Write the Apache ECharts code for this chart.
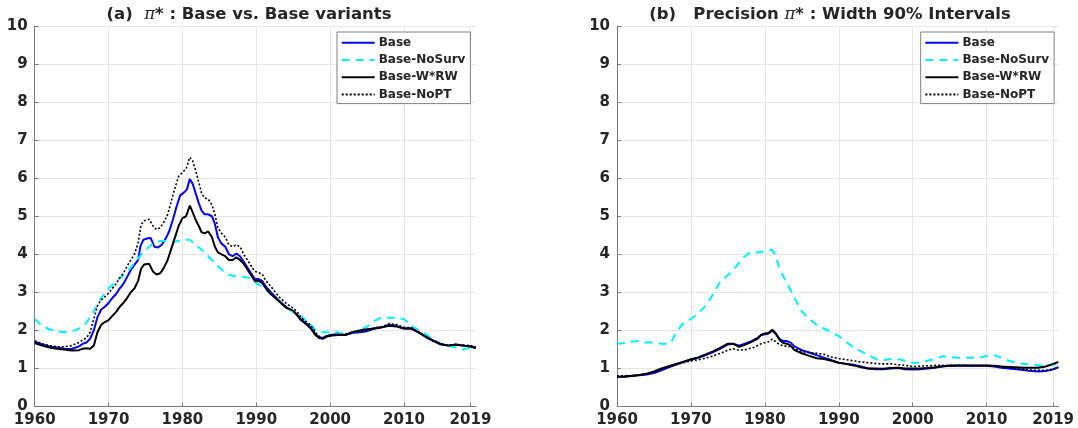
<!DOCTYPE html>
<html>
<head>
<meta charset="utf-8">
<script src="https://cdn.jsdelivr.net/npm/echarts@6/dist/echarts.min.js"></script>
<style>html,body{margin:0;padding:0;background:#fff}#c{width:1078px;height:428px}</style>
</head>
<body>
<div id="c"></div>
<script>
// ---------- data ----------
const seriesNames = ['Base', 'Base-NoSurv', 'Base-W*RW', 'Base-NoPT'];
const xTickLabels = [1960, 1970, 1980, 1990, 2000, 2010, 2019];
const yTicks = [0,1,2,3,4,5,6,7,8,9,10];

// Panel (a): pi* level
const baseA = [[1960,1.70],[1961,1.63],[1962,1.58],[1963,1.55],[1964,1.52],[1965,1.51],[1966,1.58],[1966.5,1.65],[1967,1.68],[1967.5,1.78],[1968,2.0],[1968.5,2.35],[1969,2.55],[1969.5,2.62],[1970,2.72],[1970.5,2.85],[1971,2.95],[1971.5,3.1],[1972,3.22],[1972.5,3.4],[1973,3.58],[1973.5,3.72],[1974,3.85],[1974.3,4.2],[1974.7,4.38],[1975.3,4.42],[1975.7,4.43],[1976.2,4.2],[1976.7,4.18],[1977.2,4.25],[1977.7,4.4],[1978.2,4.6],[1978.7,4.9],[1979.2,5.25],[1979.7,5.55],[1980.2,5.62],[1980.6,5.7],[1981,5.98],[1981.4,5.85],[1981.8,5.6],[1982.2,5.35],[1982.6,5.15],[1983,5.05],[1983.5,5.05],[1984,5.0],[1984.4,4.8],[1984.8,4.45],[1985.3,4.28],[1985.8,4.2],[1986.3,4.0],[1986.8,3.95],[1987.3,4.02],[1987.8,3.95],[1988.3,3.8],[1988.8,3.65],[1989.3,3.5],[1989.8,3.35],[1990.3,3.35],[1990.8,3.3],[1991.3,3.15],[1992,3.0],[1993,2.8],[1994,2.62],[1995,2.5],[1995.5,2.42],[1996,2.3],[1996.5,2.22],[1997,2.15],[1997.5,2.05],[1998,1.9],[1998.5,1.82],[1999,1.8],[1999.5,1.85],[2000,1.88],[2001,1.9],[2002,1.88],[2003,1.93],[2004,1.95],[2005,1.98],[2006,2.05],[2007,2.08],[2008,2.15],[2009,2.12],[2010,2.05],[2011,2.05],[2012,1.95],[2013,1.82],[2014,1.72],[2015,1.63],[2016,1.6],[2017,1.62],[2018,1.6],[2019,1.58],[2019.7,1.55]];
const noSurvA = [[1960,2.3],[1961,2.12],[1962,2.03],[1963,1.97],[1964,1.95],[1965,1.97],[1966,2.05],[1967,2.2],[1968,2.5],[1969,2.85],[1970,3.1],[1971,3.28],[1972,3.45],[1973,3.65],[1974,3.9],[1975,4.12],[1976,4.28],[1977,4.35],[1978,4.35],[1979,4.33],[1980,4.38],[1981,4.38],[1982,4.22],[1983,4.05],[1984,3.85],[1985,3.65],[1986,3.48],[1987,3.42],[1988,3.42],[1989,3.38],[1990,3.25],[1991,3.12],[1992,2.95],[1993,2.78],[1994,2.62],[1995,2.48],[1996,2.38],[1997,2.22],[1998,2.02],[1999,1.95],[2000,1.95],[2001,1.95],[2002,1.9],[2003,1.95],[2004,2.0],[2005,2.1],[2006,2.25],[2007,2.35],[2008,2.33],[2009,2.33],[2010,2.3],[2011,2.12],[2012,2.0],[2013,1.9],[2014,1.75],[2015,1.65],[2016,1.6],[2017,1.55],[2018,1.5],[2019,1.55],[2019.7,1.55]];
const wrwA = [[1960,1.67],[1961,1.6],[1962,1.55],[1963,1.52],[1964,1.5],[1965,1.47],[1966,1.48],[1966.5,1.52],[1967,1.53],[1967.5,1.52],[1968,1.6],[1968.5,1.95],[1969,2.15],[1969.5,2.22],[1970,2.27],[1970.5,2.38],[1971,2.48],[1971.5,2.62],[1972,2.72],[1972.5,2.85],[1973,3.0],[1973.5,3.1],[1974,3.3],[1974.4,3.62],[1974.8,3.73],[1975.5,3.75],[1976,3.55],[1976.5,3.47],[1977,3.5],[1977.5,3.65],[1978,3.85],[1978.5,4.15],[1979,4.45],[1979.5,4.75],[1980,4.95],[1980.5,5.0],[1981,5.28],[1981.4,5.1],[1981.8,4.9],[1982.2,4.75],[1982.6,4.58],[1983,4.55],[1983.5,4.6],[1984,4.45],[1984.4,4.2],[1984.8,4.05],[1985.3,4.0],[1985.8,3.95],[1986.3,3.85],[1986.8,3.85],[1987.3,3.92],[1987.8,3.85],[1988.3,3.75],[1988.8,3.6],[1989.3,3.45],[1989.8,3.3],[1990.3,3.3],[1990.8,3.25],[1991.3,3.1],[1992,2.95],[1993,2.78],[1994,2.6],[1995,2.52],[1995.5,2.4],[1996,2.28],[1996.5,2.2],[1997,2.12],[1997.5,2.02],[1998,1.88],[1998.5,1.8],[1999,1.78],[1999.5,1.83],[2000,1.86],[2001,1.88],[2002,1.88],[2003,1.95],[2004,2.0],[2005,2.03],[2006,2.05],[2007,2.08],[2008,2.12],[2009,2.1],[2010,2.05],[2011,2.05],[2012,1.95],[2013,1.83],[2014,1.73],[2015,1.64],[2016,1.6],[2017,1.63],[2018,1.6],[2019,1.58],[2019.7,1.53]];
const noPTA = [[1960,1.73],[1961,1.65],[1962,1.6],[1963,1.57],[1964,1.57],[1965,1.6],[1966,1.68],[1966.5,1.75],[1967,1.8],[1967.5,1.95],[1968,2.3],[1968.5,2.65],[1969,2.8],[1969.5,2.88],[1970,2.98],[1970.5,3.1],[1971,3.22],[1971.5,3.38],[1972,3.5],[1972.5,3.68],[1973,3.85],[1973.5,4.0],[1974,4.3],[1974.4,4.78],[1974.8,4.88],[1975.5,4.92],[1976,4.75],[1976.5,4.65],[1977,4.7],[1977.5,4.85],[1978,5.05],[1978.5,5.4],[1979,5.75],[1979.5,6.05],[1980,6.15],[1980.5,6.25],[1981,6.55],[1981.4,6.45],[1981.8,6.2],[1982.2,5.9],[1982.6,5.6],[1983,5.48],[1983.5,5.45],[1984,5.3],[1984.4,5.05],[1984.8,4.7],[1985.3,4.55],[1985.8,4.45],[1986.3,4.25],[1986.8,4.2],[1987.3,4.25],[1987.8,4.2],[1988.3,4.0],[1988.8,3.85],[1989.3,3.7],[1989.8,3.55],[1990.3,3.52],[1990.8,3.48],[1991.3,3.3],[1992,3.15],[1993,2.9],[1994,2.72],[1995,2.58],[1995.5,2.5],[1996,2.35],[1996.5,2.27],[1997,2.2],[1997.5,2.1],[1998,1.95],[1998.5,1.85],[1999,1.8],[1999.5,1.85],[2000,1.88],[2001,1.9],[2002,1.9],[2003,1.95],[2004,1.97],[2005,2.0],[2006,2.07],[2007,2.1],[2008,2.18],[2009,2.15],[2010,2.08],[2011,2.07],[2012,1.95],[2013,1.83],[2014,1.72],[2015,1.64],[2016,1.61],[2017,1.63],[2018,1.62],[2019,1.6],[2019.7,1.56]];

// Panel (b): width of 90% intervals
const baseB = [[1960,0.78],[1961,0.78],[1962,0.8],[1963,0.82],[1964,0.84],[1965,0.88],[1966,0.95],[1967,1.03],[1968,1.1],[1969,1.17],[1970,1.23],[1971,1.28],[1972,1.35],[1973,1.43],[1974,1.52],[1975,1.63],[1975.7,1.65],[1976.5,1.6],[1977,1.63],[1978,1.7],[1979,1.8],[1979.5,1.88],[1980,1.9],[1980.5,1.92],[1981,2.0],[1981.5,1.9],[1982,1.77],[1982.5,1.72],[1983,1.72],[1983.5,1.68],[1984,1.58],[1985,1.48],[1986,1.42],[1987,1.35],[1988,1.28],[1989,1.22],[1990,1.15],[1991,1.12],[1992,1.1],[1993,1.05],[1994,1.0],[1995,0.98],[1996,0.98],[1997,1.0],[1998,1.01],[1999,0.98],[2000,0.97],[2001,0.98],[2002,1.0],[2003,1.02],[2004,1.05],[2005,1.07],[2006,1.07],[2007,1.07],[2008,1.07],[2009,1.07],[2010,1.07],[2011,1.05],[2012,1.02],[2013,1.0],[2014,0.98],[2015,0.96],[2016,0.93],[2017,0.92],[2018,0.93],[2019,0.98],[2019.7,1.03]];
const noSurvB = [[1960,1.65],[1961,1.67],[1962,1.7],[1963,1.72],[1964,1.68],[1965,1.68],[1966,1.65],[1967,1.65],[1967.5,1.75],[1968,1.95],[1969,2.2],[1970,2.3],[1971,2.45],[1972,2.65],[1973,2.95],[1974,3.3],[1975,3.45],[1976,3.65],[1977,3.9],[1978,4.05],[1979,4.05],[1980,4.08],[1981,4.12],[1981.5,3.95],[1982,3.6],[1983,3.25],[1984,2.85],[1985,2.5],[1986,2.3],[1987,2.15],[1988,2.05],[1989,1.95],[1990,1.85],[1991,1.7],[1992,1.55],[1993,1.45],[1994,1.35],[1995,1.25],[1996,1.22],[1997,1.25],[1998,1.25],[1999,1.2],[2000,1.15],[2001,1.15],[2002,1.2],[2003,1.25],[2004,1.32],[2005,1.3],[2006,1.28],[2007,1.28],[2008,1.28],[2009,1.28],[2010,1.33],[2011,1.35],[2012,1.28],[2013,1.2],[2014,1.15],[2015,1.12],[2016,1.12],[2017,1.08],[2018,1.07],[2019,1.1],[2019.7,1.12]];
const wrwB = [[1960,0.78],[1961,0.79],[1962,0.81],[1963,0.83],[1964,0.86],[1965,0.92],[1966,1.0],[1967,1.06],[1968,1.12],[1969,1.18],[1970,1.24],[1971,1.29],[1972,1.37],[1973,1.45],[1974,1.55],[1975,1.65],[1975.7,1.65],[1976.5,1.57],[1977,1.6],[1978,1.68],[1979,1.78],[1979.5,1.88],[1980,1.92],[1980.5,1.93],[1981,2.02],[1981.5,1.92],[1982,1.75],[1982.5,1.67],[1983,1.65],[1983.5,1.6],[1984,1.48],[1985,1.4],[1986,1.33],[1987,1.27],[1988,1.25],[1989,1.2],[1990,1.15],[1991,1.12],[1992,1.08],[1993,1.03],[1994,1.0],[1995,1.0],[1996,0.99],[1997,1.01],[1998,1.02],[1999,1.0],[2000,1.0],[2001,1.0],[2002,1.01],[2003,1.03],[2004,1.06],[2005,1.07],[2006,1.08],[2007,1.08],[2008,1.08],[2009,1.08],[2010,1.08],[2011,1.07],[2012,1.05],[2013,1.04],[2014,1.03],[2015,1.02],[2016,1.02],[2017,1.02],[2018,1.05],[2019,1.12],[2019.7,1.17]];
const noPTB = [[1960,0.8],[1962,0.81],[1963,0.83],[1964,0.85],[1965,0.9],[1966,0.97],[1967,1.04],[1968,1.1],[1969,1.15],[1970,1.2],[1971,1.23],[1972,1.27],[1973,1.33],[1974,1.4],[1975,1.48],[1975.7,1.52],[1976.5,1.48],[1977.5,1.5],[1978.5,1.55],[1979.5,1.65],[1980.5,1.7],[1981,1.77],[1981.5,1.7],[1982,1.62],[1983,1.58],[1983.5,1.57],[1984,1.52],[1985,1.45],[1986,1.42],[1987,1.4],[1988,1.37],[1989,1.3],[1990,1.26],[1991,1.23],[1992,1.2],[1993,1.17],[1994,1.15],[1995,1.13],[1996,1.12],[1997,1.12],[1998,1.1],[1999,1.08],[2000,1.05],[2001,1.06],[2002,1.07],[2003,1.08],[2004,1.08],[2005,1.08],[2006,1.08],[2007,1.08],[2008,1.07],[2009,1.07],[2010,1.07],[2011,1.06],[2012,1.05],[2013,1.03],[2014,1.0],[2015,0.98],[2016,0.96],[2017,0.95],[2018,0.95],[2019,0.98],[2019.7,1.03]];

// ---------- chart ----------
const FONT = 'DejaVu Sans';
const TXT = '#262626';
const AX = '#7a7a7a';
const GRIDC = '#e6e6e6';

const styles = [
  {color: '#0000ff', width: 2, type: 'solid'},
  {color: '#00f0ff', width: 2, type: [8, 6]},
  {color: '#000000', width: 2, type: 'solid'},
  {color: '#000000', width: 1.6, type: [2, 2]}
];

function xAxis(gi) {
  return {
    type: 'value', gridIndex: gi, min: 1960, max: 2019.75, interval: 10,
    axisLine: {show: true, onZero: false, lineStyle: {color: AX, width: 1}},
    axisTick: {show: true, inside: true, length: 4, lineStyle: {color: AX}, customValues: xTickLabels},
    axisLabel: {customValues: xTickLabels, formatter: v => String(Math.round(v)), color: TXT,
      fontFamily: FONT, fontWeight: 'bold', fontSize: 15, margin: 6},
    splitLine: {show: true, lineStyle: {color: GRIDC, width: 1}}
  };
}
function yAxis(gi) {
  return {
    type: 'value', gridIndex: gi, min: 0, max: 10, interval: 1,
    axisLine: {show: true, lineStyle: {color: AX, width: 1}},
    axisTick: {show: true, inside: true, length: 4, lineStyle: {color: AX}},
    axisLabel: {color: TXT, fontFamily: FONT, fontWeight: 'bold', fontSize: 15, margin: 7},
    splitLine: {show: true, lineStyle: {color: GRIDC, width: 1}}
  };
}
function mk(name, data, idx, gi) {
  return {
    name: name, type: 'line', xAxisIndex: gi, yAxisIndex: gi, data: data,
    showSymbol: false, symbol: 'none', smooth: false, z: 2 + idx,
    lineStyle: styles[idx], itemStyle: {color: styles[idx].color}
  };
}
function legend(left) {
  return {
    orient: 'vertical', left: left, top: 32, data: seriesNames,
    itemWidth: 33, itemHeight: 8, itemGap: 5.3,
    padding: [4.7, 5, 3, 3.7],
    borderColor: '#808080', borderWidth: 1, backgroundColor: '#ffffff',
    itemStyle: {opacity: 0},
    textStyle: {fontFamily: FONT, fontWeight: 'bold', fontSize: 12, color: TXT, padding: [0, 0, 0, -1]},
    selectedMode: false
  };
}

const chart = echarts.init(document.getElementById('c'), null, {renderer: 'canvas'});
chart.setOption({
  animation: false,
  backgroundColor: '#ffffff',
  grid: [
    {left: 34.7, top: 26, width: 441.3, height: 380.5},
    {left: 617, top: 26, width: 441.7, height: 380.5}
  ],
  xAxis: [xAxis(0), xAxis(1)],
  yAxis: [yAxis(0), yAxis(1)],
  legend: [legend(337), legend(920.7)],
  graphic: [
    {type: 'text', x: 249, y: 15, z: 100, style: {
      text: '(a)  {pi|π}* : Base vs. Base variants', align: 'center', verticalAlign: 'middle',
      font: 'bold 16.5px "DejaVu Sans"', fill: TXT,
      rich: {pi: {fontFamily: 'DejaVu Serif', fontStyle: 'italic', fontWeight: 'normal', fontSize: 16.5, fill: TXT}}
    }},
    {type: 'text', x: 830, y: 15, z: 100, style: {
      text: '(b)   Precision {pi|π}* : Width 90% Intervals', align: 'center', verticalAlign: 'middle',
      font: 'bold 16.5px "DejaVu Sans"', fill: TXT,
      rich: {pi: {fontFamily: 'DejaVu Serif', fontStyle: 'italic', fontWeight: 'normal', fontSize: 16.5, fill: TXT}}
    }}
  ],
  series: [
    mk(seriesNames[0], baseA, 0, 0),
    mk(seriesNames[1], noSurvA, 1, 0),
    mk(seriesNames[2], wrwA, 2, 0),
    mk(seriesNames[3], noPTA, 3, 0),
    mk(seriesNames[0], baseB, 0, 1),
    mk(seriesNames[1], noSurvB, 1, 1),
    mk(seriesNames[2], wrwB, 2, 1),
    mk(seriesNames[3], noPTB, 3, 1)
  ]
});
</script>
</body>
</html>
